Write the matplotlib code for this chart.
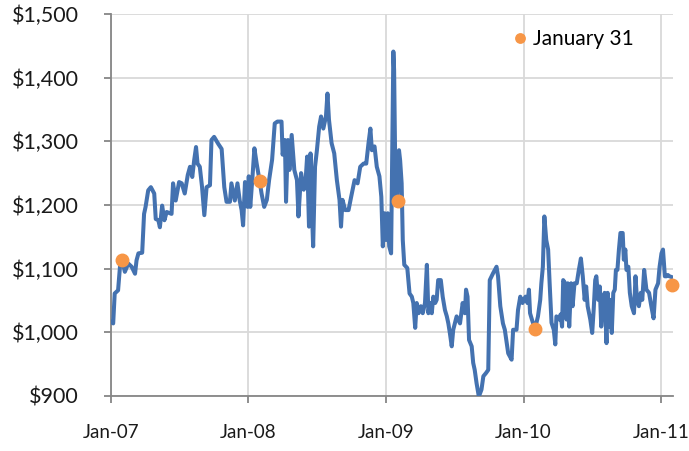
import pandas as pd
import matplotlib
matplotlib.use("Agg")
import matplotlib.pyplot as plt
import matplotlib.dates as mdates
from matplotlib.ticker import FuncFormatter


# Price series
price_dates = [
    "2007-01-02", "2007-01-07", "2007-01-11", "2007-01-20", "2007-01-25", "2007-01-31",
    "2007-02-07", "2007-02-16", "2007-02-25", "2007-03-06", "2007-03-10", "2007-03-15",
    "2007-03-25", "2007-03-30", "2007-04-03", "2007-04-10", "2007-04-17", "2007-04-26",
    "2007-04-30", "2007-05-07", "2007-05-11", "2007-05-17", "2007-05-23", "2007-05-29",
    "2007-06-11", "2007-06-15", "2007-06-22", "2007-07-01", "2007-07-08", "2007-07-16",
    "2007-07-24", "2007-07-30", "2007-08-05", "2007-08-10", "2007-08-15", "2007-08-19",
    "2007-08-25", "2007-08-31", "2007-09-06", "2007-09-12", "2007-09-21", "2007-09-25",
    "2007-10-02", "2007-10-13", "2007-10-22", "2007-10-29", "2007-11-04", "2007-11-13",
    "2007-11-17", "2007-11-26", "2007-12-03", "2007-12-09", "2007-12-14", "2007-12-18",
    "2007-12-23", "2007-12-30",
    "2008-01-02", "2008-01-06", "2008-01-12", "2008-01-17", "2008-01-23", "2008-01-31",
    "2008-02-05", "2008-02-12", "2008-02-19", "2008-02-25", "2008-03-04", "2008-03-11",
    "2008-03-18", "2008-03-29", "2008-04-01", "2008-04-07", "2008-04-10", "2008-04-15",
    "2008-04-19", "2008-04-25", "2008-05-02", "2008-05-09", "2008-05-13", "2008-05-20",
    "2008-05-27", "2008-06-01", "2008-06-05", "2008-06-10", "2008-06-14", "2008-06-17",
    "2008-06-21", "2008-06-26", "2008-07-01", "2008-07-07", "2008-07-12", "2008-07-18",
    "2008-07-25", "2008-07-29", "2008-08-02", "2008-08-09", "2008-08-16", "2008-08-23",
    "2008-08-30", "2008-09-03", "2008-09-07", "2008-09-14", "2008-09-23", "2008-09-30",
    "2008-10-09", "2008-10-17", "2008-10-24", "2008-11-02", "2008-11-09", "2008-11-15",
    "2008-11-20", "2008-11-24", "2008-12-01", "2008-12-07", "2008-12-14", "2008-12-19",
    "2008-12-23", "2008-12-28",
    "2009-01-01", "2009-01-05", "2009-01-09", "2009-01-14", "2009-01-17", "2009-01-20",
    "2009-01-22", "2009-01-26", "2009-01-31", "2009-02-04", "2009-02-07", "2009-02-11",
    "2009-02-14", "2009-02-18", "2009-02-26", "2009-03-04", "2009-03-10", "2009-03-14",
    "2009-03-19", "2009-03-23", "2009-03-28", "2009-04-03", "2009-04-08", "2009-04-14",
    "2009-04-19", "2009-04-23", "2009-04-27", "2009-05-02", "2009-05-06", "2009-05-11",
    "2009-05-15", "2009-05-19", "2009-05-26", "2009-05-31", "2009-06-06", "2009-06-11",
    "2009-06-15", "2009-06-19", "2009-06-24", "2009-06-28", "2009-07-07", "2009-07-16",
    "2009-07-23", "2009-07-29", "2009-08-01", "2009-08-05", "2009-08-09", "2009-08-16",
    "2009-08-20", "2009-08-24", "2009-08-29", "2009-09-04", "2009-09-11", "2009-09-16",
    "2009-09-23", "2009-09-29", "2009-10-03", "2009-10-12", "2009-10-21", "2009-10-25",
    "2009-10-31", "2009-11-07", "2009-11-12", "2009-11-21", "2009-11-30", "2009-12-04",
    "2009-12-13", "2009-12-17", "2009-12-23", "2009-12-29",
    "2010-01-01", "2010-01-06", "2010-01-11", "2010-01-15", "2010-01-18", "2010-01-23",
    "2010-01-31", "2010-02-08", "2010-02-14", "2010-02-17", "2010-02-21", "2010-02-25",
    "2010-03-02", "2010-03-07", "2010-03-11", "2010-03-16", "2010-03-22", "2010-03-26",
    "2010-03-29", "2010-04-06", "2010-04-09", "2010-04-13", "2010-04-16", "2010-04-21",
    "2010-04-25", "2010-04-28", "2010-05-02", "2010-05-07", "2010-05-11", "2010-05-16",
    "2010-05-22", "2010-05-27", "2010-06-02", "2010-06-07", "2010-06-12", "2010-06-16",
    "2010-06-20", "2010-06-27", "2010-07-02", "2010-07-06", "2010-07-10", "2010-07-13",
    "2010-07-18", "2010-07-22", "2010-07-26", "2010-07-31", "2010-08-04", "2010-08-09",
    "2010-08-12", "2010-08-16", "2010-08-19", "2010-08-23", "2010-08-27", "2010-08-31",
    "2010-09-03", "2010-09-07", "2010-09-11", "2010-09-15", "2010-09-21", "2010-09-24",
    "2010-09-28", "2010-10-01", "2010-10-06", "2010-10-10", "2010-10-15", "2010-10-21",
    "2010-10-25", "2010-10-29", "2010-11-03", "2010-11-08", "2010-11-12", "2010-11-17",
    "2010-11-23", "2010-11-30", "2010-12-06", "2010-12-12", "2010-12-17", "2010-12-24",
    "2010-12-28", "2011-01-02", "2011-01-06", "2011-01-11", "2011-01-15", "2011-01-19",
    "2011-01-23", "2011-01-28",
]
price_values = [
    1016, 1014, 1061, 1066, 1103, 1113,
    1095, 1108, 1103, 1092, 1113, 1124,
    1125, 1186, 1197, 1223, 1228, 1218,
    1178, 1176, 1165, 1199, 1176, 1189,
    1186, 1234, 1207, 1236, 1234, 1218,
    1247, 1260, 1244, 1270, 1291, 1265,
    1260, 1228, 1184, 1228, 1231, 1302,
    1307, 1296, 1288, 1228, 1205, 1205,
    1234, 1207, 1234, 1207, 1192, 1168,
    1236, 1197,
    1245, 1197, 1245, 1289, 1265, 1237,
    1218, 1197, 1208, 1239, 1271, 1328,
    1331, 1331, 1279, 1302, 1205, 1302,
    1255, 1310, 1255, 1239, 1182, 1250,
    1224, 1239, 1276, 1166, 1281, 1203,
    1135, 1260, 1286, 1323, 1339, 1320,
    1339, 1375, 1334, 1297, 1281, 1239,
    1208, 1166, 1208, 1192, 1192, 1213,
    1239, 1234, 1260, 1265, 1265, 1297,
    1320, 1286, 1292, 1260, 1245, 1213,
    1135, 1187,
    1145, 1187, 1135, 1124, 1290, 1441,
    1412, 1208, 1206, 1286, 1270, 1234,
    1145, 1106, 1101, 1061, 1056, 1046,
    1007, 1046, 1030, 1041, 1030, 1046,
    1106, 1030, 1046, 1030, 1056, 1046,
    1051, 1082, 1082, 1056, 1035, 1025,
    1014, 999, 978, 1004, 1025, 1014,
    1046, 1030, 1067, 1056, 988, 978,
    952, 941, 920, 899, 910, 931,
    936, 941, 1082, 1093, 1103, 1088,
    1041, 1014, 1004, 967, 957, 1004,
    1004, 1035, 1056, 1046,
    1051, 1056, 1046, 1067, 1030, 1020,
    1005, 1025, 1051, 1077, 1103, 1182,
    1145, 1130, 1077, 1015, 1004, 981,
    1025, 1020, 1028, 1009, 1082, 1077,
    1020, 1077, 1009, 1077, 1041, 1077,
    1077, 1096, 1116, 1088, 1051, 1072,
    1041, 1020, 999, 1036, 1082, 1088,
    1051, 1072, 1009, 1051, 1062, 983,
    1062, 1009, 1051, 999, 1062, 1067,
    1098, 1098, 1130, 1156, 1156, 1114,
    1130, 1098, 1103, 1062, 1041, 1030,
    1088, 1051, 1041, 1062, 1051, 1098,
    1067, 1062, 1041, 1022, 1067, 1077,
    1103, 1124, 1130, 1088, 1088, 1090,
    1088, 1087,
]

# January 31 markers
jan31_dates = ["2007-01-31", "2008-01-31", "2009-01-31", "2010-01-31", "2011-01-31"]
jan31_values = [1113, 1237, 1206, 1005, 1075]

year_ticks = ["2007-01-01", "2008-01-01", "2009-01-01", "2010-01-01", "2011-01-01"]

plt.rcParams["font.family"] = ["Lato", "DejaVu Sans"]

fig = plt.figure(figsize=(6.89, 4.51), dpi=100)
ax = fig.add_axes([0.161, 0.122, 0.816, 0.847])

ax.plot(pd.to_datetime(price_dates), price_values, color="#4472b0", linewidth=2.9,
        solid_joinstyle="round", zorder=3)
dots, = ax.plot(pd.to_datetime(jan31_dates), jan31_values, linestyle="none", marker="o",
                markersize=9, color="#f79646", label="January 31", zorder=4, clip_on=False)

ax.set_xlim(pd.Timestamp("2007-01-01"), pd.Timestamp("2011-02-02"))
ax.set_ylim(900, 1500)
ax.set_yticks(range(900, 1501, 100))
ax.yaxis.set_major_formatter(FuncFormatter(lambda v, pos: f"${v:,.0f}"))
ax.set_xticks(pd.to_datetime(year_ticks))
ax.xaxis.set_major_formatter(mdates.DateFormatter("%b-%y"))

ax.grid(True, color="#d9d9d9", linewidth=1.3)
ax.set_axisbelow(True)
for side in ["top", "right"]:
    ax.spines[side].set_visible(False)
for side in ["left", "bottom"]:
    ax.spines[side].set_color("#868686")
    ax.spines[side].set_linewidth(1.3)
ax.tick_params(axis="y", length=5, width=1.3, color="#868686", pad=18, labelsize=15.5,
               labelcolor="#1a1a1a")
ax.tick_params(axis="x", length=5, width=1.3, color="#868686", pad=15, labelsize=13.5,
               labelcolor="#1a1a1a")

ax.legend(handles=[dots], loc="center left", bbox_to_anchor=(0.717, 0.935), frameon=False,
          fontsize=15, markerscale=0.75, handlelength=0.6, handletextpad=0.3, borderpad=0,
          borderaxespad=0)

fig.savefig("out.png", dpi=100)
